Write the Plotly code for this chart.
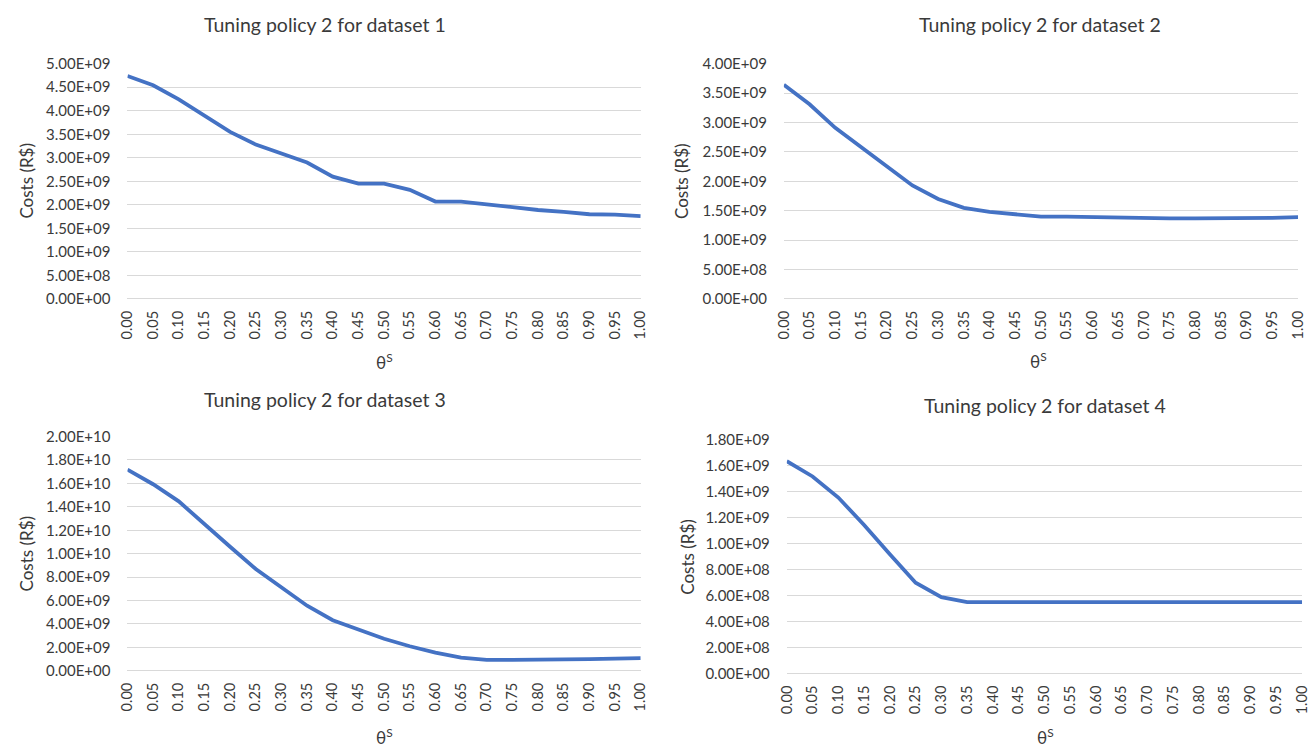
import plotly.graph_objects as go

theta = ["0.00", "0.05", "0.10", "0.15", "0.20", "0.25", "0.30", "0.35", "0.40", "0.45", "0.50",
         "0.55", "0.60", "0.65", "0.70", "0.75", "0.80", "0.85", "0.90", "0.95", "1.00"]

costs_d1 = [4.74e9, 4.54e9, 4.24e9, 3.89e9, 3.55e9, 3.28e9, 3.08e9, 2.90e9, 2.60e9, 2.45e9, 2.45e9,
            2.32e9, 2.07e9, 2.07e9, 2.01e9, 1.94e9, 1.89e9, 1.85e9, 1.80e9, 1.79e9, 1.76e9]
costs_d2 = [3.64e9, 3.31e9, 2.91e9, 2.58e9, 2.26e9, 1.93e9, 1.70e9, 1.55e9, 1.48e9, 1.44e9, 1.40e9,
            1.40e9, 1.39e9, 1.38e9, 1.38e9, 1.37e9, 1.37e9, 1.37e9, 1.37e9, 1.38e9, 1.39e9]
costs_d3 = [1.718e10, 1.593e10, 1.447e10, 1.248e10, 1.059e10, 8.69e9, 7.08e9, 5.56e9, 4.32e9, 3.49e9, 2.74e9,
            2.10e9, 1.55e9, 1.13e9, 0.94e9, 0.94e9, 0.94e9, 0.94e9, 1.00e9, 1.05e9, 1.08e9]
costs_d4 = [1.633e9, 1.516e9, 1.354e9, 1.143e9, 0.919e9, 0.70e9, 0.588e9, 0.55e9, 0.55e9, 0.55e9, 0.55e9,
            0.55e9, 0.55e9, 0.55e9, 0.55e9, 0.55e9, 0.55e9, 0.55e9, 0.55e9, 0.55e9, 0.55e9]

titles = ["Tuning policy 2 for dataset 1", "Tuning policy 2 for dataset 2",
          "Tuning policy 2 for dataset 3", "Tuning policy 2 for dataset 4"]
y_max = [5.0e9, 4.0e9, 2.0e10, 1.8e9]
y_step = [5.0e8, 5.0e8, 2.0e9, 2.0e8]
series = [costs_d1, costs_d2, costs_d3, costs_d4]

W, H = 1314, 754
FONT = "Lato"
TXT = "#3a3a3a"
# layout in window pixels: plot box (left, right, top, bottom), title centre, y-title centre, x-title centre
boxes = [(120, 640, 55, 296), (785, 1306, 55, 296), (120, 640, 437, 677), (788, 1310, 440, 680)]
title_pos = [(320, 15), (1045, 15), (320, 399), (1050, 405)]
ytitle_pos = [(18, 175), (682, 175), (18, 557), (688, 560)]
xtitle_pos = [(380, 360), (1043, 359), (380, 744), (1050, 744)]


def px(x):
    return x / W


def py(y):
    return 1 - y / H


fig = go.Figure()
annotations = []
for i, (ys, box) in enumerate(zip(series, boxes)):
    n = i + 1
    xa = "x" if n == 1 else f"x{n}"
    ya = "y" if n == 1 else f"y{n}"
    l, r, t, b = box
    fig.add_trace(go.Scatter(x=theta, y=ys, mode="lines", xaxis=xa, yaxis=ya,
                             line=dict(color="#4472C4", width=3.8), showlegend=False))
    nt = int(round(y_max[i] / y_step[i]))
    tv = [k * y_step[i] for k in range(nt + 1)]
    tt = [f"{v:.2E}" for v in tv]
    fig.update_layout(**{
        ("xaxis" if n == 1 else f"xaxis{n}"): dict(
            domain=[px(l), px(r)], anchor=ya, type="category", tickangle=-90,
            showgrid=False, showline=False, zeroline=False, ticks="",
            tickfont=dict(family=FONT, size=14.5, color=TXT), ticklabelstandoff=8),
        ("yaxis" if n == 1 else f"yaxis{n}"): dict(
            domain=[py(b), py(t)], anchor=xa, range=[0, y_max[i]],
            tickvals=tv, ticktext=tt, showgrid=True, gridcolor="#d9d9d9", gridwidth=1.3,
            zeroline=True, zerolinecolor="#d9d9d9", zerolinewidth=1.3, showline=False,
            ticks="", tickfont=dict(family=FONT, size=15, color=TXT), ticklabelstandoff=16),
    })
    tx, ty = title_pos[i]
    annotations.append(dict(text=titles[i], x=px(tx), y=py(ty), xref="paper", yref="paper",
                            xanchor="center", yanchor="middle", showarrow=False,
                            font=dict(family=FONT, size=19.5, color=TXT)))
    yx, yy = ytitle_pos[i]
    annotations.append(dict(text="Costs (R$)", textangle=-90, x=px(yx), y=py(yy),
                            xref="paper", yref="paper", xanchor="center", yanchor="middle",
                            showarrow=False, font=dict(family=FONT, size=17, color=TXT)))
    xx, xy = xtitle_pos[i]
    annotations.append(dict(text="θ<sup>S</sup>", x=px(xx), y=py(xy),
                            xref="paper", yref="paper", xanchor="center", yanchor="middle",
                            showarrow=False, font=dict(family=FONT, size=17, color=TXT)))

fig.update_layout(width=W, height=H, margin=dict(l=0, r=0, t=0, b=0),
                  plot_bgcolor="white", paper_bgcolor="white", annotations=annotations)
fig.write_html("out.html", config={"displayModeBar": False},
               post_script="document.body.style.margin='0';document.body.style.overflow='hidden';")
